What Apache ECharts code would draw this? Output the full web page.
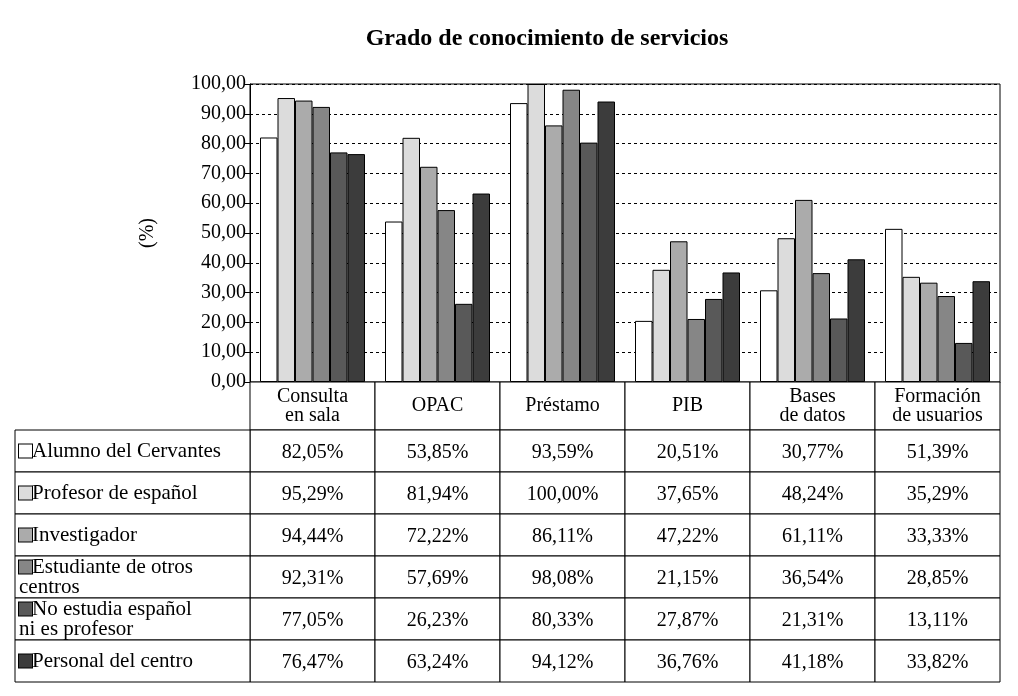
<!DOCTYPE html>
<html>
<head>
<meta charset="utf-8">
<title>Grado de conocimiento de servicios</title>
<script src="https://cdn.jsdelivr.net/npm/echarts@6/dist/echarts.min.js"></script>
<style>
    html, body { margin: 0; padding: 0; background: #fff; }
    #chart { width: 1018px; height: 696px; }
</style>
</head>
<body>
<div id="chart"></div>
<script>
    // servicios (columnas de la tabla)
    var categories = ['Consulta\nen sala', 'OPAC', 'Préstamo', 'PIB', 'Bases\nde datos', 'Formación\nde usuarios'];
    // grupos de usuarios (filas de la tabla)
    var groups = ['Alumno del Cervantes', 'Profesor de español', 'Investigador',
                  'Estudiante de otros\ncentros', 'No estudia español\nni es profesor', 'Personal del centro'];
    var alumno       = [82.05, 53.85, 93.59, 20.51, 30.77, 51.39];
    var profesor     = [95.29, 81.94, 100.00, 37.65, 48.24, 35.29];
    var investigador = [94.44, 72.22, 86.11, 47.22, 61.11, 33.33];
    var estudiante   = [92.31, 57.69, 98.08, 21.15, 36.54, 28.85];
    var noEstudia    = [77.05, 26.23, 80.33, 27.87, 21.31, 13.11];
    var personal     = [76.47, 63.24, 94.12, 36.76, 41.18, 33.82];
    var yTicks = [0, 10, 20, 30, 40, 50, 60, 70, 80, 90, 100];

    var values = [alumno, profesor, investigador, estudiante, noEstudia, personal];
    var colors = ['#ffffff', '#dcdcdc', '#ababab', '#868686', '#595959', '#3c3c3c'];
    var serif = '"Liberation Serif", "DejaVu Serif", serif';

    function num(v) { return v.toFixed(2).replace('.', ','); }

    var chart = echarts.init(document.getElementById('chart'));

    // (no usar "top": es window.top)
    var plotLeft = 250, plotRight = 18, plotTop = 84, plotH = 298, headH = 48, bodyH = 252;

    var headData = categories.map(function (c, i) { return [i, 0]; });
    var cellData = [];
    for (var r = 0; r < groups.length; r++) {
        for (var c = 0; c < categories.length; c++) cellData.push([c, r]);
    }
    var labelData = groups.map(function (g, i) { return [0, i]; });

    function cellRect(p, s) {
        return { type: 'rect', shape: { x: p[0] - s[0] / 2, y: p[1] - s[1] / 2, width: s[0], height: s[1] },
                 style: { fill: '#fff', stroke: '#000', lineWidth: 1 } };
    }
    function cellText(txt, x, y, align, size, extra) {
        var st = { text: txt, x: x, y: y, align: align, verticalAlign: 'middle',
                   textAlign: align, textVerticalAlign: 'middle',
                   fontFamily: serif, fontSize: size, lineHeight: size - 1, fill: '#000' };
        if (extra) st.rich = extra;
        return { type: 'text', style: st };
    }

    function renderHead(params, api) {
        var col = api.value(0);
        var p = api.coord([col, 0]);
        var s = api.size([1, 1]);
        return { type: 'group', children: [cellRect(p, s), cellText(categories[col], p[0], p[1], 'center', 20)] };
    }

    function renderCell(params, api) {
        var col = api.value(0), row = api.value(1);
        var p = api.coord([col, row]);
        var s = api.size([1, 1]);
        return { type: 'group', children: [cellRect(p, s),
            cellText(num(values[row][col]) + '%', p[0], p[1] + 2, 'center', 20)] };
    }

    function renderLabel(params, api) {
        var row = api.value(1);
        var p = api.coord([0, row]);
        var s = api.size([1, 1]);
        var x0 = p[0] - s[0] / 2;
        return { type: 'group', children: [cellRect(p, s),
            cellText('{i|}' + groups[row], x0 + 4, p[1], 'left', 21, {
                i: { width: 13, height: 13, backgroundColor: colors[row], borderColor: '#000', borderWidth: 1 }
            })] };
    }

    var series = groups.map(function (g, i) {
        return {
            name: g.replace('\n', ' '),
            type: 'bar',
            xAxisIndex: 0, yAxisIndex: 0,
            barGap: '0%',
            barCategoryGap: '16%',
            itemStyle: { color: colors[i], borderColor: '#000', borderWidth: 1 },
            data: values[i]
        };
    });
    series.push({ type: 'custom', xAxisIndex: 1, yAxisIndex: 1, renderItem: renderHead, data: headData, silent: true });
    series.push({ type: 'custom', xAxisIndex: 2, yAxisIndex: 2, renderItem: renderCell, data: cellData, silent: true });
    series.push({ type: 'custom', xAxisIndex: 3, yAxisIndex: 3, renderItem: renderLabel, data: labelData, silent: true });

    chart.setOption({
        animation: false,
        backgroundColor: '#fff',
        title: {
            text: 'Grado de conocimiento de servicios',
            left: 542, top: 22, textAlign: 'center',
            textStyle: { fontFamily: serif, fontSize: 24, fontWeight: 'bold', color: '#000' }
        },
        grid: [
            { left: plotLeft, right: plotRight, top: plotTop, height: plotH, show: true, borderColor: '#000', borderWidth: 1 },
            { left: plotLeft, right: plotRight, top: plotTop + plotH, height: headH },
            { left: plotLeft, right: plotRight, top: plotTop + plotH + headH, height: bodyH },
            { left: 15, width: plotLeft - 15, top: plotTop + plotH + headH, height: bodyH }
        ],
        xAxis: [
            { type: 'category', gridIndex: 0, data: categories,
              axisLine: { lineStyle: { color: '#000' } }, axisTick: { show: false }, axisLabel: { show: false } },
            { type: 'category', gridIndex: 1, data: categories, show: false },
            { type: 'category', gridIndex: 2, data: categories, show: false },
            { type: 'category', gridIndex: 3, data: [''], show: false }
        ],
        yAxis: [
            { type: 'value', gridIndex: 0, min: yTicks[0], max: yTicks[yTicks.length - 1], interval: 10,
              name: '(%)', nameLocation: 'middle', nameGap: 92,
              nameTextStyle: { fontFamily: serif, fontSize: 20, color: '#000' },
              axisLine: { show: true, lineStyle: { color: '#000' } },
              axisTick: { show: true, length: 6, lineStyle: { color: '#000' } },
              axisLabel: { fontFamily: serif, fontSize: 20, color: '#000', margin: 4, formatter: num },
              splitLine: { lineStyle: { color: '#000', type: [3, 3], width: 1 } } },
            { type: 'category', gridIndex: 1, data: [''], show: false },
            { type: 'category', gridIndex: 2, data: groups, inverse: true, show: false },
            { type: 'category', gridIndex: 3, data: groups, inverse: true, show: false }
        ],
        series: series
    });
</script>
</body>
</html>
